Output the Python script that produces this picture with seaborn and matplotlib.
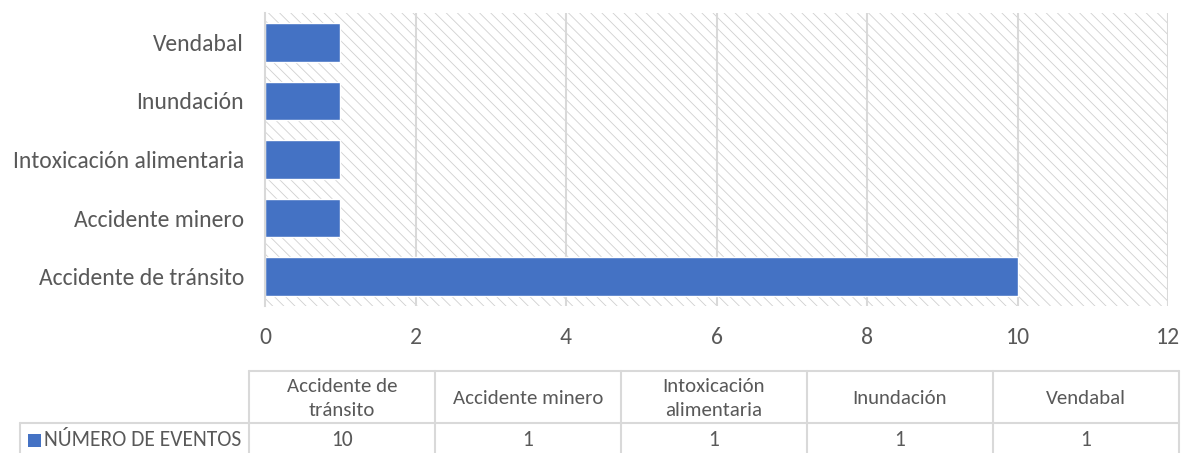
import matplotlib
matplotlib.use("Agg")
import matplotlib.pyplot as plt
import seaborn as sns
import pandas as pd
from matplotlib.patches import Rectangle

# data
categories = ["Accidente de tránsito", "Accidente minero", "Intoxicación alimentaria",
              "Inundación", "Vendabal"]
counts = [10, 1, 1, 1, 1]
series_name = "NÚMERO DE EVENTOS"
header_labels = ["Accidente de\ntránsito", "Accidente minero", "Intoxicación\nalimentaria",
                 "Inundación", "Vendabal"]
x_ticks = [0, 2, 4, 6, 8, 10, 12]

sns.set_theme(style="white")
plt.rcParams['font.family'] = ['Carlito', 'Lato', 'DejaVu Sans']
TXT = "#595959"
BAR = "#4472C4"
GRID = "#D9D9D9"

W, H = 1182, 453
fig = plt.figure(figsize=(W / 100, H / 100), dpi=100)

# plot area in pixels
L, R, T, B = 265, 1168, 13, 306
ax = fig.add_axes([L / W, 1 - B / H, (R - L) / W, (B - T) / H])

df = pd.DataFrame({"cat": categories, "n": counts})
order = categories[::-1]
sns.barplot(data=df, y="cat", x="n", order=order, orient="h", color=BAR,
            saturation=1, width=0.66, ax=ax, zorder=3)

ax.set_xlim(0, 12)
ax.set_xticks(x_ticks)
ax.set_xticklabels([str(t) for t in x_ticks])
ax.set_xlabel("")
ax.set_ylabel("")
for s in ["top", "right", "bottom"]:
    ax.spines[s].set_visible(False)
ax.spines["left"].set_color(GRID)
ax.spines["left"].set_linewidth(1.5)
ax.spines["left"].set_zorder(4)

# hatched background
plt.rcParams['hatch.linewidth'] = 0.6
bg = Rectangle((0, 0), 1, 1, transform=ax.transAxes, facecolor="white",
               edgecolor="#D0D0D0", hatch="\\\\\\", linewidth=0, zorder=0)
ax.add_patch(bg)
ax.set_facecolor("white")

for t in x_ticks[1:]:
    ax.axvline(t, color=GRID, lw=1.5, zorder=1)

ax.tick_params(axis="both", length=0, colors=TXT, labelsize=17)
ax.tick_params(axis="x", pad=15)
ax.tick_params(axis="y", pad=15)

# data table
tax = fig.add_axes([0, 0, 1, 1])
tax.set_xlim(0, W)
tax.set_ylim(H, 0)
tax.axis("off")
tax.patch.set_alpha(0)

tl, tr = 249, 1179
top_y, mid_y, bot_y = 371, 423, 460
key_l = 20
ncol = len(categories)
cw = (tr - tl) / ncol
lc = GRID
lw = 1.5
tax.plot([tl, tr], [top_y, top_y], color=lc, lw=lw)
tax.plot([key_l, tr], [mid_y, mid_y], color=lc, lw=lw)
tax.plot([key_l, key_l], [mid_y, bot_y], color=lc, lw=lw)
for i in range(ncol + 1):
    x = tl + i * cw
    tax.plot([x, x], [top_y, bot_y], color=lc, lw=lw)

for i, (lab, v) in enumerate(zip(header_labels, counts)):
    cx = tl + (i + 0.5) * cw
    tax.text(cx, (top_y + mid_y) / 2 + 1, lab, ha="center", va="center",
             color=TXT, fontsize=15, linespacing=1.5)
    tax.text(cx, 440, str(v), ha="center", va="center", color=TXT, fontsize=15.5)

tax.add_patch(Rectangle((28, 434), 13, 13, facecolor=BAR, edgecolor="none"))
tax.text(44, 440, series_name, ha="left", va="center", color=TXT, fontsize=15.5)

fig.savefig("out.png", dpi=100)
